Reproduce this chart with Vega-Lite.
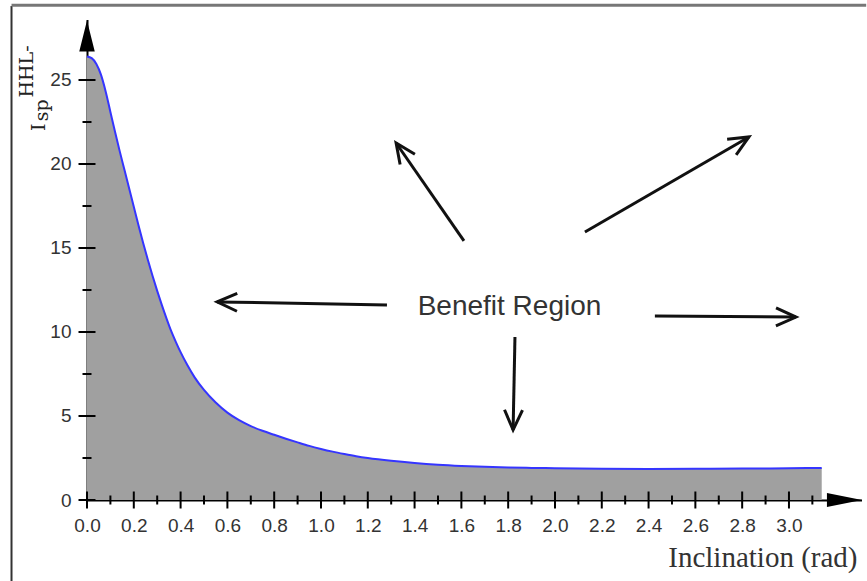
{
  "$schema": "https://vega.github.io/schema/vega-lite/v6.json",
  "width": 774.5,
  "height": 480.5,
  "autosize": {"type": "none"},
  "padding": {"left": 87, "top": 19.5, "right": 5.5, "bottom": 81},
  "background": "white",
  "config": {
    "view": {"stroke": null},
    "axis": {"grid": false, "ticks": false, "tickSize": 0, "labelPadding": 16, "labelFont": "Liberation Sans", "labelFontSize": 19, "labelColor": "#333", "labelFlush": false, "labelOverlap": false, "domainColor": "black", "domainWidth": 2, "zindex": 1}
  },
  "datasets": {
    "curve": [
      {"x": 0, "y": 26.4}, {"x": 0.02, "y": 26.3}, {"x": 0.04, "y": 25.95}, {"x": 0.06, "y": 25.3},
      {"x": 0.08, "y": 24.3}, {"x": 0.10, "y": 23.1}, {"x": 0.12, "y": 21.9}, {"x": 0.14, "y": 20.75},
      {"x": 0.16, "y": 19.65}, {"x": 0.18, "y": 18.55}, {"x": 0.20, "y": 17.45}, {"x": 0.22, "y": 16.35},
      {"x": 0.24, "y": 15.3}, {"x": 0.26, "y": 14.3}, {"x": 0.28, "y": 13.35}, {"x": 0.30, "y": 12.45},
      {"x": 0.32, "y": 11.6}, {"x": 0.34, "y": 10.8}, {"x": 0.36, "y": 10.05}, {"x": 0.38, "y": 9.4},
      {"x": 0.40, "y": 8.8}, {"x": 0.43, "y": 8.0}, {"x": 0.46, "y": 7.3}, {"x": 0.50, "y": 6.55},
      {"x": 0.55, "y": 5.8}, {"x": 0.60, "y": 5.2}, {"x": 0.65, "y": 4.75}, {"x": 0.70, "y": 4.4},
      {"x": 0.75, "y": 4.12}, {"x": 0.80, "y": 3.88}, {"x": 0.85, "y": 3.65}, {"x": 0.90, "y": 3.43},
      {"x": 0.95, "y": 3.22}, {"x": 1.00, "y": 3.04}, {"x": 1.05, "y": 2.88}, {"x": 1.10, "y": 2.74},
      {"x": 1.15, "y": 2.61}, {"x": 1.20, "y": 2.5}, {"x": 1.30, "y": 2.33}, {"x": 1.40, "y": 2.2},
      {"x": 1.50, "y": 2.1}, {"x": 1.60, "y": 2.03}, {"x": 1.70, "y": 1.98}, {"x": 1.80, "y": 1.94},
      {"x": 1.90, "y": 1.91}, {"x": 2.00, "y": 1.89}, {"x": 2.20, "y": 1.86}, {"x": 2.40, "y": 1.85},
      {"x": 2.60, "y": 1.86}, {"x": 2.80, "y": 1.87}, {"x": 3.00, "y": 1.89}, {"x": 3.14, "y": 1.91}
    ],
    "xticks": [
      {"v": 0.0, "kind": "major"}, {"v": 0.1, "kind": "minor"}, {"v": 0.2, "kind": "major"}, {"v": 0.3, "kind": "minor"},
      {"v": 0.4, "kind": "major"}, {"v": 0.5, "kind": "minor"}, {"v": 0.6, "kind": "major"}, {"v": 0.7, "kind": "minor"},
      {"v": 0.8, "kind": "major"}, {"v": 0.9, "kind": "minor"}, {"v": 1.0, "kind": "major"}, {"v": 1.1, "kind": "minor"},
      {"v": 1.2, "kind": "major"}, {"v": 1.3, "kind": "minor"}, {"v": 1.4, "kind": "major"}, {"v": 1.5, "kind": "minor"},
      {"v": 1.6, "kind": "major"}, {"v": 1.7, "kind": "minor"}, {"v": 1.8, "kind": "major"}, {"v": 1.9, "kind": "minor"},
      {"v": 2.0, "kind": "major"}, {"v": 2.1, "kind": "minor"}, {"v": 2.2, "kind": "major"}, {"v": 2.3, "kind": "minor"},
      {"v": 2.4, "kind": "major"}, {"v": 2.5, "kind": "minor"}, {"v": 2.6, "kind": "major"}, {"v": 2.7, "kind": "minor"},
      {"v": 2.8, "kind": "major"}, {"v": 2.9, "kind": "minor"}, {"v": 3.0, "kind": "major"}, {"v": 3.1, "kind": "minor"}
    ],
    "yticks": [
      {"v": 0, "kind": "major"}, {"v": 2.5, "kind": "minor"}, {"v": 5, "kind": "major"}, {"v": 7.5, "kind": "minor"},
      {"v": 10, "kind": "major"}, {"v": 12.5, "kind": "minor"}, {"v": 15, "kind": "major"}, {"v": 17.5, "kind": "minor"},
      {"v": 20, "kind": "major"}, {"v": 22.5, "kind": "minor"}, {"v": 25, "kind": "major"}
    ],
    "arrows": [
      {"id": "a1", "tx": 1.611, "ty": 15.42, "hx": 1.321, "hy": 21.25},
      {"id": "a2", "tx": 2.128, "ty": 15.95, "hx": 2.829, "hy": 21.61},
      {"id": "a3", "tx": 1.282, "ty": 11.61, "hx": 0.556, "hy": 11.79},
      {"id": "a4", "tx": 2.427, "ty": 10.95, "hx": 3.030, "hy": 10.89},
      {"id": "a5", "tx": 1.829, "ty": 9.70, "hx": 1.821, "hy": 4.17}
    ]
  },
  "layer": [
    {
      "data": {"name": "curve"},
      "mark": {"type": "area", "color": "#a0a0a0", "interpolate": "monotone"},
      "encoding": {
        "x": {
          "field": "x", "type": "quantitative",
          "scale": {"domain": [0, 3.31], "nice": false, "zero": false},
          "axis": {
            "values": [0, 0.2, 0.4, 0.6, 0.8, 1.0, 1.2, 1.4, 1.6, 1.8, 2.0, 2.2, 2.4, 2.6, 2.8, 3.0],
            "format": ".1f",
            "title": "Inclination (rad)", "titleFont": "Liberation Serif", "titleFontSize": 29,
            "titleFontWeight": "normal", "titleColor": "#333", "titleX": 770, "titleY": 66,
            "titleAlign": "right", "titleBaseline": "alphabetic"
          }
        },
        "y": {
          "field": "y", "type": "quantitative",
          "scale": {"domain": [0, 28.6], "nice": false},
          "axis": {"values": [0, 5, 10, 15, 20, 25], "title": null}
        }
      }
    },
    {
      "data": {"name": "curve"},
      "mark": {"type": "line", "color": "#3535ff", "strokeWidth": 2, "interpolate": "monotone"},
      "encoding": {
        "x": {"field": "x", "type": "quantitative"},
        "y": {"field": "y", "type": "quantitative"}
      }
    },
    {
      "data": {"values": [{"k": 1}]},
      "mark": {"type": "rule", "color": "#333", "strokeWidth": 2},
      "encoding": {
        "x": {"datum": -0.3226, "type": "quantitative"},
        "y": {"datum": 29.4, "type": "quantitative"},
        "y2": {"datum": -5}
      }
    },
    {
      "data": {"values": [{"k": 1}]},
      "mark": {"type": "rule", "color": "#777", "strokeWidth": 3},
      "encoding": {
        "x": {"datum": -0.3226, "type": "quantitative"},
        "x2": {"datum": 3.33},
        "y": {"datum": 29.45, "type": "quantitative"}
      }
    },
    {
      "data": {"name": "xticks"},
      "mark": {"type": "tick", "orient": "vertical", "thickness": 2, "color": "black", "opacity": 1},
      "encoding": {
        "x": {"field": "v", "type": "quantitative"},
        "y": {"datum": 0, "type": "quantitative"},
        "size": {"field": "kind", "type": "ordinal", "scale": {"domain": ["major", "minor"], "range": [17, 9]}, "legend": null}
      }
    },
    {
      "data": {"name": "yticks"},
      "mark": {"type": "tick", "orient": "horizontal", "thickness": 2, "color": "black", "opacity": 1},
      "encoding": {
        "y": {"field": "v", "type": "quantitative"},
        "x": {"datum": 0, "type": "quantitative"},
        "size": {"field": "kind", "type": "ordinal", "scale": {"domain": ["major", "minor"], "range": [18, 9]}, "legend": null}
      }
    },
    {
      "data": {"values": [{"k": 1}]},
      "mark": {"type": "point", "shape": "M0,-1L0.5,1L-0.5,1Z", "size": 961, "filled": true, "color": "black", "opacity": 1},
      "encoding": {
        "x": {"datum": 0, "type": "quantitative"},
        "y": {"datum": 27.62, "type": "quantitative"}
      }
    },
    {
      "data": {"values": [{"k": 1}]},
      "mark": {"type": "point", "shape": "M1,0L-1,0.4L-1,-0.4Z", "size": 1225, "filled": true, "color": "black", "opacity": 1},
      "encoding": {
        "x": {"datum": 3.237, "type": "quantitative"},
        "y": {"datum": 0, "type": "quantitative"}
      }
    },
    {
      "data": {"name": "arrows"},
      "mark": {"type": "rule", "color": "#111", "strokeWidth": 3},
      "encoding": {
        "x": {"field": "tx", "type": "quantitative"},
        "y": {"field": "ty", "type": "quantitative"},
        "x2": {"field": "hx"},
        "y2": {"field": "hy"}
      }
    },
    {
      "data": {"name": "arrows"},
      "mark": {"type": "point", "shape": "M-1,-0.45L0,0L-1,0.45", "size": 1600, "filled": false, "color": "#111", "strokeWidth": 3, "opacity": 1, "strokeJoin": "miter"},
      "encoding": {
        "x": {"field": "hx", "type": "quantitative"},
        "y": {"field": "hy", "type": "quantitative"},
        "angle": {"field": "id", "type": "ordinal", "scale": {"type": "ordinal", "domain": ["a1", "a2", "a3", "a4", "a5"], "range": [235.2, 329.9, 181.0, 0.4, 91.2]}, "legend": null}
      }
    },
    {
      "data": {"values": [{"label": "Benefit Region", "x": 1.8056, "y": 11.01}]},
      "mark": {"type": "text", "font": "Liberation Sans", "fontSize": 28, "color": "#333", "align": "center", "baseline": "alphabetic"},
      "encoding": {
        "x": {"field": "x", "type": "quantitative"},
        "y": {"field": "y", "type": "quantitative"},
        "text": {"field": "label"}
      }
    },
    {
      "data": {"values": [{"label": "I", "x": -0.1795, "y": 21.96}]},
      "mark": {"type": "text", "font": "DejaVu Serif", "fontSize": 19, "color": "#222", "align": "left", "baseline": "alphabetic", "angle": 270},
      "encoding": {
        "x": {"field": "x", "type": "quantitative"},
        "y": {"field": "y", "type": "quantitative"},
        "text": {"field": "label"}
      }
    },
    {
      "data": {"values": [{"label": "sp", "x": -0.1667, "y": 22.55}]},
      "mark": {"type": "text", "font": "DejaVu Serif", "fontSize": 19, "color": "#222", "align": "left", "baseline": "alphabetic", "angle": 270},
      "encoding": {
        "x": {"field": "x", "type": "quantitative"},
        "y": {"field": "y", "type": "quantitative"},
        "text": {"field": "label"}
      }
    },
    {
      "data": {"values": [{"label": "HHL-", "x": -0.2308, "y": 23.95}]},
      "mark": {"type": "text", "font": "DejaVu Serif", "fontSize": 19, "color": "#222", "align": "left", "baseline": "alphabetic", "angle": 270},
      "encoding": {
        "x": {"field": "x", "type": "quantitative"},
        "y": {"field": "y", "type": "quantitative"},
        "text": {"field": "label"}
      }
    }
  ]
}
